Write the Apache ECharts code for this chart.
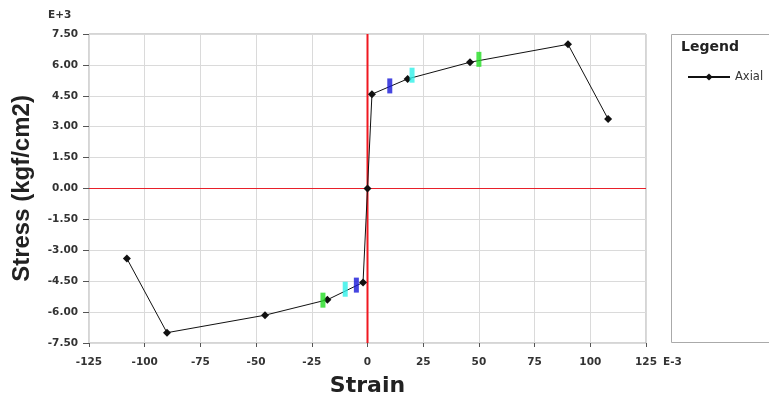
<!DOCTYPE html>
<html><head><meta charset="utf-8">
<script src="https://cdn.jsdelivr.net/npm/echarts@6/dist/echarts.min.js"></script>
<style>html,body{margin:0;padding:0;background:#fff}#c{width:769px;height:396px}</style>
</head><body><div id="c"></div>
<script>
const strain = [-108, -90, -46, -18, -2, 0, 2, 18, 46, 90, 108];
const stress = [-3.4, -7.0, -6.15, -5.4, -4.56, 0, 4.58, 5.32, 6.13, 7.0, 3.37];
const levelStrain = [10, 20, 50, -5, -10, -20];
const levelStress = [4.98, 5.5, 6.27, -4.69, -4.89, -5.42];
const levelColors = ['#1818d8', '#30f0e8', '#22dd22', '#1818d8', '#30f0e8', '#22dd22'];
const yTicks = [-7.5, -6, -4.5, -3, -1.5, 0, 1.5, 3, 4.5, 6, 7.5];
const xTicks = [-125, -100, -75, -50, -25, 0, 25, 50, 75, 100, 125];

const chart = echarts.init(document.getElementById('c'));
const lbl = {color: '#333', fontFamily: 'DejaVu Sans', fontWeight: 'bold', fontSize: 10.5};
const yMin = yTicks[0], yMax = yTicks[yTicks.length-1];
const xMin = xTicks[0], xMax = xTicks[xTicks.length-1];
chart.setOption({
  animation: false,
  backgroundColor: '#fff',
  grid: {left: 89, right: 123, top: 34, bottom: 53, outerBoundsMode: 'none', containLabel: false,
         show: true, borderColor: '#aaa', borderWidth: 1, backgroundColor: '#fff'},
  xAxis: {
    type: 'value', min: xMin, max: xMax, interval: 25,
    axisLine: {show: false, onZero: false},
    axisTick: {show: true, length: 4, lineStyle: {color: '#555'}},
    axisLabel: Object.assign({margin: 14, showMinLabel: true, showMaxLabel: true}, lbl),
    splitLine: {show: true, lineStyle: {color: '#dadada'}},
    name: 'Strain', nameLocation: 'middle', nameGap: 32,
    nameTextStyle: {fontFamily: 'DejaVu Sans', fontWeight: 'bold', fontSize: 22, color: '#222'}
  },
  yAxis: {
    type: 'value', min: yMin, max: yMax, interval: 1.5,
    axisLine: {show: false, onZero: false},
    axisTick: {show: true, length: 6, lineStyle: {color: '#555'}},
    axisLabel: Object.assign({margin: 11, formatter: v => v.toFixed(2)}, lbl),
    splitLine: {show: true, lineStyle: {color: '#dadada'}},
    name: 'Stress (kgf/cm2)', nameLocation: 'middle', nameGap: 55, nameRotate: 90,
    nameTextStyle: {fontFamily: 'Liberation Sans', fontWeight: 'bold', fontSize: 24, color: '#222'}
  },
  legend: {
    data: ['Axial'],
    left: 682, top: 66, itemWidth: 42, itemHeight: 9, itemGap: 5,
    textStyle: {fontFamily: 'DejaVu Sans', fontSize: 11.5, color: '#333'}
  },
  graphic: [
    {type: 'rect', shape: {x: 671.5, y: 34.5, width: 120, height: 308}, style: {fill: '#fff', stroke: '#aaa', lineWidth: 1}, z: -1},
    {type: 'text', left: 681, top: 40, style: {text: 'Legend', font: 'bold 14px DejaVu Sans', fill: '#222'}},
    {type: 'text', left: 48, top: 10, style: {text: 'E+3', font: 'bold 10.5px DejaVu Sans', fill: '#333'}},
    {type: 'text', left: 663, top: 357, style: {text: 'E-3', font: 'bold 10.5px DejaVu Sans', fill: '#333'}}
  ],
  series: [
    {
      name: 'zeroX', type: 'line', data: [[0, yMin], [0, yMax]], symbol: 'none', silent: true,
      lineStyle: {color: '#f01820', width: 2}, z: 2
    },
    {
      name: 'zeroY', type: 'line', data: [[xMin, 0], [xMax, 0]], symbol: 'none', silent: true,
      lineStyle: {color: '#e8202a', width: 1}, z: 2
    },
    {
      name: 'Axial', type: 'line', data: strain.map((x, i) => [x, stress[i]]),
      symbol: 'diamond', symbolSize: 8, showSymbol: true,
      lineStyle: {color: '#111', width: 1}, itemStyle: {color: '#111'}, z: 3
    },
    {
      name: 'levels', type: 'scatter', symbol: 'rect', symbolSize: [5, 15],
      data: levelStrain.map((x, i) => ({value: [x, levelStress[i]], itemStyle: {color: levelColors[i]}})),
      z: 4
    }
  ]
});
</script></body></html>
